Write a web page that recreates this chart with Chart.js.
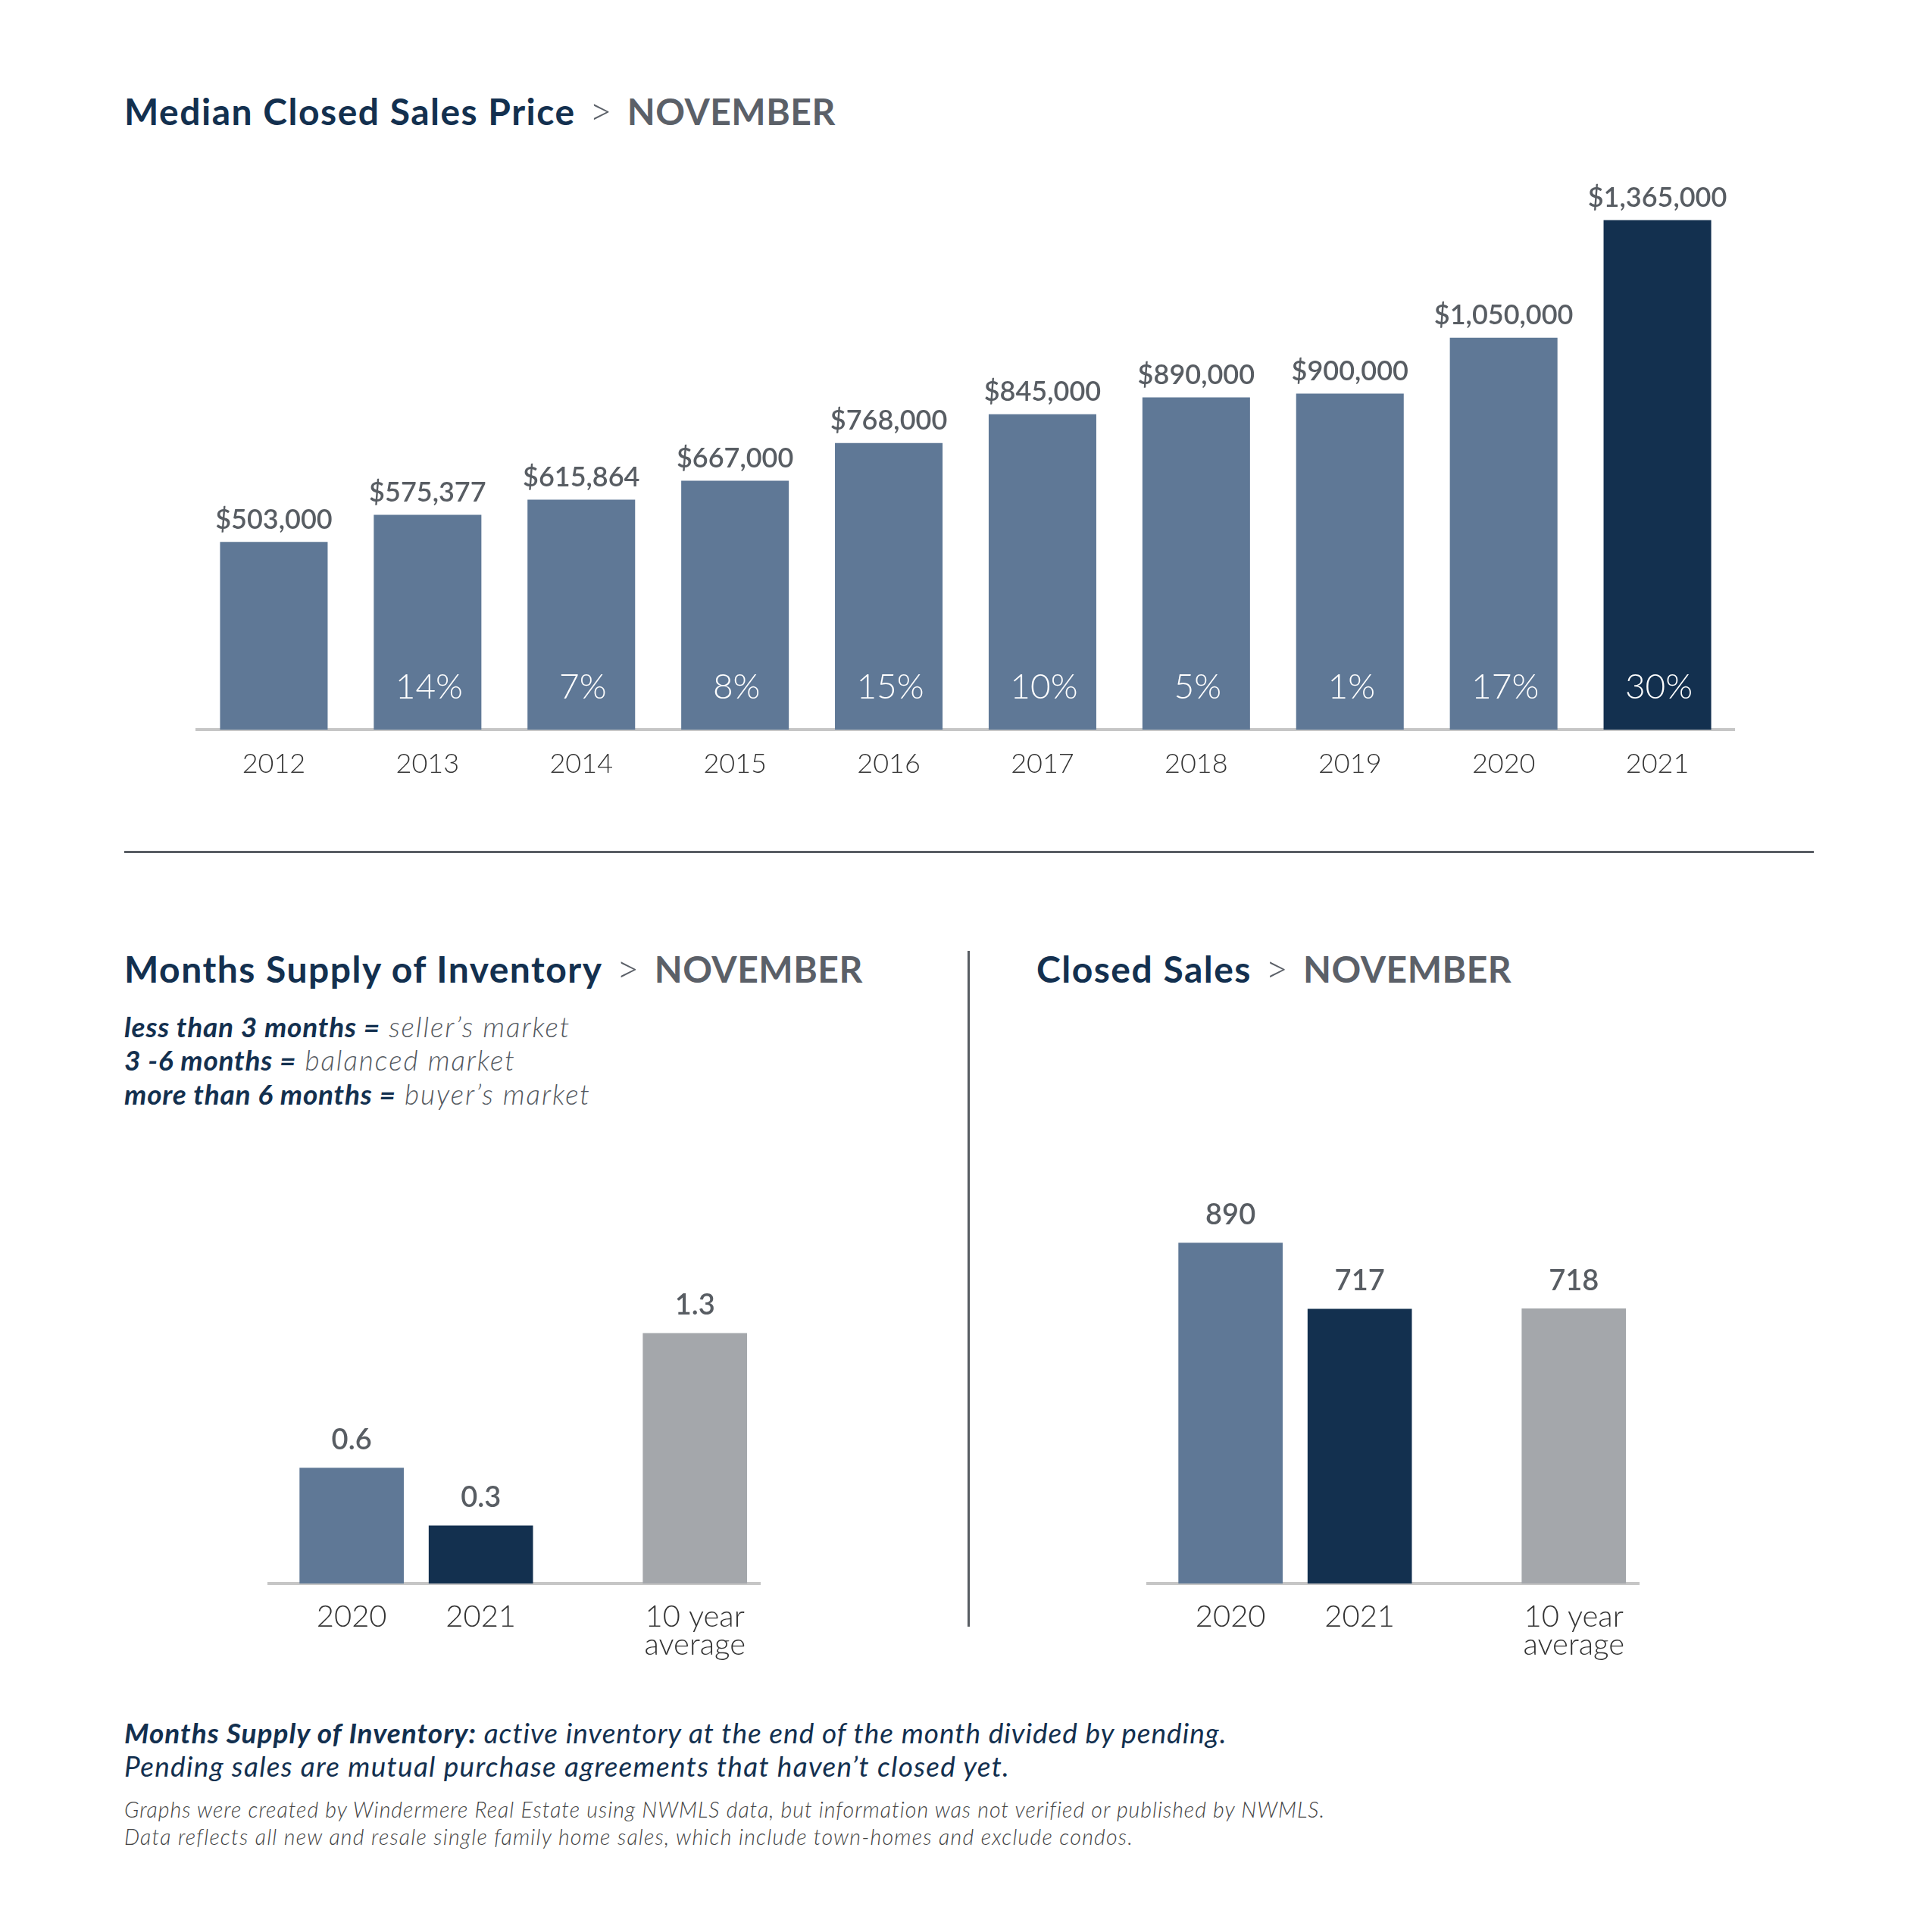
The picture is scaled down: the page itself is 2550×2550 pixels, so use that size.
<!DOCTYPE html>
<html>
<head>
<meta charset="utf-8">
<script src="https://cdn.jsdelivr.net/npm/chart.js@4.4.1/dist/chart.umd.min.js"></script>
<style>
  html, body { margin: 0; padding: 0; background: #fff; }
  #page { position: relative; width: 2550px; height: 2550px; background: #fff; overflow: hidden; font-family: Lato, "Open Sans", sans-serif; }
  .abs { position: absolute; white-space: nowrap; }
  .title { font-size: 48px; line-height: 48px; font-weight: 700; color: #13304f; letter-spacing: 1.5px; }
  .title .sep { color: #5b6068; font-weight: 300; font-size: 52px; margin: 0 20px 0 18px; letter-spacing: 0; }
  .title .mon { color: #5b6068; font-weight: 700; letter-spacing: 0.5px; }
  .legend { font-size: 37px; line-height: 37px; font-style: italic; color: #54595f; font-weight: 300; letter-spacing: 1.9px; }
  .legend b { color: #13304f; font-weight: 700; letter-spacing: 0.8px; }
  .foot { font-size: 37px; line-height: 37px; font-style: italic; color: #13304f; font-weight: 400; letter-spacing: 1px; }
  .foot.l2 { letter-spacing: 1.3px; }
  .foot b { font-weight: 700; }
  .note { font-size: 28.5px; line-height: 28.5px; font-style: italic; color: #444; font-weight: 300; letter-spacing: 1px; }
  canvas { position: absolute; }
</style>
</head>
<body>
<div id="page">
  <div class="abs title" style="left:164px; top:121px;">Median Closed Sales Price<span class="sep">&gt;</span><span class="mon">NOVEMBER</span></div>
  <canvas id="priceChart" width="2550" height="860" style="left:0; top:200px;"></canvas>
  <div class="abs" style="left:164px; top:1123px; width:2230px; height:3px; background:#585d63;"></div>
  <div class="abs" style="left:1277px; top:1255px; width:3px; height:892px; background:#585d63;"></div>

  <div class="abs title" style="left:164px; top:1253px;">Months Supply of Inventory<span class="sep">&gt;</span><span class="mon">NOVEMBER</span></div>
  <div class="abs legend" style="left:164px; top:1336px;"><b>less than 3 months =</b> seller’s market</div>
  <div class="abs legend" style="left:164px; top:1380px;"><b>3 -6 months =</b> balanced market</div>
  <div class="abs legend" style="left:164px; top:1425px;"><b>more than 6 months =</b> buyer’s market</div>
  <canvas id="supplyChart" width="800" height="700" style="left:280px; top:1500px;"></canvas>

  <div class="abs title" style="left:1368px; top:1253px;">Closed Sales<span class="sep">&gt;</span><span class="mon">NOVEMBER</span></div>
  <canvas id="salesChart" width="800" height="700" style="left:1440px; top:1500px;"></canvas>

  <div class="abs foot" style="left:164px; top:2268px;"><b>Months Supply of Inventory:</b> active inventory at the end of the month divided by pending.</div>
  <div class="abs foot l2" style="left:164px; top:2312px;">Pending sales are mutual purchase agreements that haven’t closed yet.</div>
  <div class="abs note" style="left:164px; top:2374px;">Graphs were created by Windermere Real Estate using NWMLS data, but information was not verified or published by NWMLS.</div>
  <div class="abs note" style="left:164px; top:2410px; letter-spacing:1.2px;">Data reflects all new and resale single family home sales, which include town-homes and exclude condos.</div>
</div>

<script>
// ---- Data ----
const priceYears = ['2012', '2013', '2014', '2015', '2016', '2017', '2018', '2019', '2020', '2021'];
const medianPrice = [503000, 575377, 615864, 667000, 768000, 845000, 890000, 900000, 1050000, 1365000];
const priceChangePct = [null, 14, 7, 8, 15, 10, 5, 1, 17, 30];

const compareLabels = ['2020', '2021', '10 year average'];
const monthsSupply = [0.6, 0.3, 1.3];
const closedSales = [890, 717, 718];

// ---- Styles ----
const MID_BLUE = '#5f7896';
const NAVY = '#13304f';
const GRAY = '#a4a7ab';
const LABEL_GRAY = '#585d63';
const AXIS_GRAY = '#c6c6c6';
const FONT = 'Lato, "Open Sans", sans-serif';

Chart.defaults.font.family = FONT;

// Plugin: value labels above bars (and optional inside labels)
const valueLabels = {
  id: 'valueLabels',
  afterDatasetsDraw(chart, args, opts) {
    const ctx = chart.ctx;
    const meta = chart.getDatasetMeta(0);
    const ds = chart.data.datasets[0];
    ctx.save();
    meta.data.forEach((bar, i) => {
      const raw = ds.data[i];
      const v = typeof raw === 'object' ? raw.y : raw;
      ctx.font = opts.font;
      ctx.fillStyle = opts.color;
      ctx.textAlign = 'center';
      ctx.textBaseline = 'middle';
      ctx.fillText(opts.format(v), bar.x, bar.y - opts.offset);
      if (opts.inside && opts.inside[i] != null) {
        ctx.font = opts.insideFont;
        ctx.fillStyle = '#ffffff';
        ctx.fillText(opts.inside[i] + '%', bar.x + 2, chart.chartArea.bottom - opts.insideOffset);
      }
    });
    ctx.restore();
  }
};

// ---- Median price chart ----
new Chart(document.getElementById('priceChart'), {
  type: 'bar',
  data: {
    labels: priceYears,
    datasets: [{
      data: medianPrice,
      backgroundColor: priceYears.map((_, i) => i === priceYears.length - 1 ? NAVY : MID_BLUE),
      barPercentage: 0.7,
      categoryPercentage: 1.0
    }]
  },
  options: {
    responsive: false,
    animation: false,
    devicePixelRatio: 1,
    layout: { padding: { left: 260, right: 261, top: 24, bottom: 0 } },
    plugins: {
      legend: { display: false },
      tooltip: { enabled: false },
      valueLabels: {
        font: '600 36px ' + FONT,
        color: LABEL_GRAY,
        offset: 29,
        format: v => '$' + v.toLocaleString('en-US'),
        inside: priceChangePct,
        insideFont: '300 46px ' + FONT,
        insideOffset: 56
      }
    },
    scales: {
      y: { display: false, min: 0, max: 1500000 },
      x: {
        grid: { display: false, drawTicks: false },
        border: { display: true, color: AXIS_GRAY, width: 4 },
        ticks: { color: '#333', font: { size: 36, weight: 300, lineHeight: 1.2 }, padding: 24, maxRotation: 0 },
        afterFit: s => { s.height = 97; }
      }
    }
  },
  plugins: [valueLabels]
});

// ---- Comparison charts (2020 / 2021 / 10-year average) ----
const GAP = 0.657;                           // extra space before the average bar
const slotPos = i => (i < 2 ? i : i + GAP);   // layout slot for each category

function compareChart(id, values, yMax, padTop, fmt) {
  const positions = values.map((_, i) => slotPos(i));
  return new Chart(document.getElementById(id), {
    type: 'bar',
    data: {
      datasets: [{
        data: values.map((v, i) => ({ x: positions[i], y: v })),
        backgroundColor: [MID_BLUE, NAVY, GRAY],
        barThickness: 137
      }]
    },
    options: {
      responsive: false,
      animation: false,
      devicePixelRatio: 1,
      layout: { padding: { left: 75, right: 77, top: padTop, bottom: 0 } },
      plugins: {
        legend: { display: false },
        tooltip: { enabled: false },
        valueLabels: { font: '600 38px ' + FONT, color: LABEL_GRAY, offset: 37, format: fmt }
      },
      scales: {
        y: { display: false, min: 0, max: yMax },
        x: {
          type: 'linear',
          offset: false,
          min: -0.64,
          max: 3.16,
          grid: { display: false, drawTicks: false },
          border: { display: true, color: AXIS_GRAY, width: 4 },
          afterBuildTicks: scale => { scale.ticks = positions.map(v => ({ value: v })); },
          ticks: {
            autoSkip: false,
            maxRotation: 0,
            color: '#333',
            padding: 25,
            font: { size: 40, weight: 300, lineHeight: 0.93 },
            callback: (val, idx) => {
              const lbl = compareLabels[idx];
              return lbl.includes('average') ? ['10 year', 'average'] : lbl;
            }
          },
          afterFit: s => { s.height = 110; }
        }
      }
    },
    plugins: [valueLabels]
  });
}

compareChart('supplyChart', monthsSupply, 2.0, 82, v => v.toFixed(1));
compareChart('salesChart', closedSales, 1000, 85, v => String(v));
</script>
</body>
</html>
